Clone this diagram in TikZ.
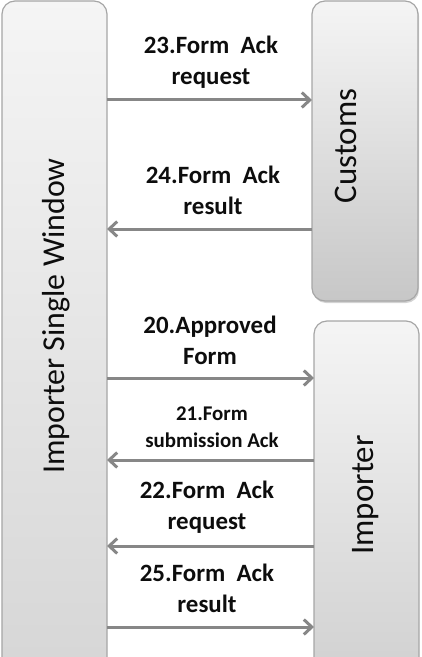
\documentclass[tikz,border=0pt]{standalone}
\usepackage{fontspec}
\setmainfont{Carlito}
\usetikzlibrary{arrows.meta, shadows}

\begin{document}
\begin{tikzpicture}[x=1bp,y=-1bp,
  lane/.style={draw=black!35, line width=1.2bp, rounded corners=13bp, top color=black!4, bottom color=black!19, inner sep=0pt, outer sep=0pt},
  lanetext/.style={rotate=90, inner sep=0pt, font=\fontsize{33}{36}\selectfont, text=black!95},
  msg/.style={align=center, inner sep=0pt, font=\bfseries\fontsize{25}{31}\selectfont, text=black!95},
  flow/.style={draw=black!47, line width=3bp, -{Straight Barb[length=8bp,width=15bp]}}]
\clip (0,0) rectangle (421,657);
% lanes
\node[lane, bottom color=black!17, minimum width=105bp, minimum height=730bp] (isw) at (54.5,366) {};
\node[lane, bottom color=black!22, minimum width=106bp, minimum height=300bp, drop shadow={shadow xshift=1bp, shadow yshift=-2bp, opacity=.35}] (cus) at (365,151) {};
\node[lane, minimum width=105bp, minimum height=379bp] (imp) at (366.5,510.5) {};
\node[lanetext, font=\fontsize{32}{36}\selectfont] (isw-t) at (56,316) {Importer Single Window};
\node[lanetext] (cus-t) at (345.5,146) {Customs};
\node[lanetext] (imp-t) at (366,495) {Importer};
% messages
\coordinate (a23) at (0,100);
\coordinate (a24) at (0,229);
\coordinate (a20) at (0,378);
\coordinate (a21) at (0,460);
\coordinate (a22) at (0,546);
\coordinate (a25) at (0,627);
\node[msg] (m23) at (211,62) {23.Form~~Ack\\request};
\node[msg] (m24) at (213,190) {24.Form~~Ack\\result};
\node[msg] (m20) at (210,340) {20.Approved\\Form};
\node[msg, font=\bfseries\fontsize{21}{27}\selectfont] (m21) at (212,427) {21.Form\\submission Ack};
\node[msg] (m22) at (207,507) {22.Form~~Ack\\request};
\node[msg] (m25) at (207,588) {25.Form~~Ack\\result};
\draw[flow] (isw.east |- a23) -- (cus.west |- a23);
\draw[flow] (cus.west |- a24) -- (isw.east |- a24);
\draw[flow] (isw.east |- a20) -- (imp.west |- a20);
\draw[flow] (imp.west |- a21) -- (isw.east |- a21);
\draw[flow] (imp.west |- a22) -- (isw.east |- a22);
\draw[flow] (isw.east |- a25) -- (imp.west |- a25);
\end{tikzpicture}
\end{document}
